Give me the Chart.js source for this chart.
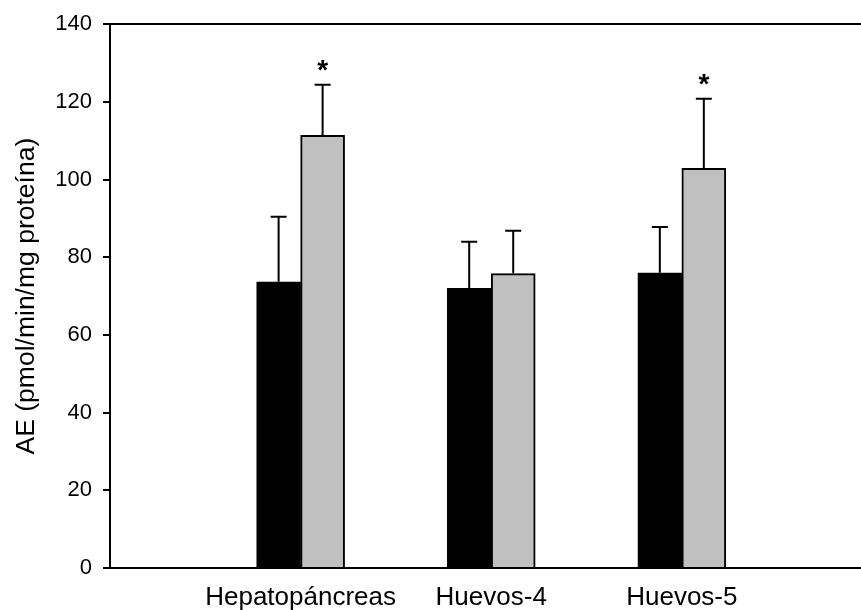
<!DOCTYPE html>
<html>
<head>
<meta charset="utf-8">
<script src="https://cdn.jsdelivr.net/npm/chart.js@4/dist/chart.umd.min.js"></script>
<style>
  body { margin: 0; background: #fff; }
  #wrap { width: 861px; height: 610px; }
</style>
</head>
<body>
<div id="wrap"><canvas id="my-chart" width="861" height="610"></canvas></div>
<script>
// values
const categories = ['Hepatopáncreas', 'Huevos-4', 'Huevos-5'];
const groupPos = [1, 2, 3];
const blackValues = [73.7, 72.0, 76.0];
const blackErrors = [16.7, 12.0, 11.8];
const grayValues = [111.4, 75.8, 102.9];
const grayErrors = [13.0, 11.0, 17.9];
const grayMarks = ['*', '', '*'];
const yTicks = [0, 20, 40, 60, 80, 100, 120, 140];

const font = "'Liberation Sans', Arial, sans-serif";

// upward error bars + significance stars
const errorBars = {
  id: 'errorBars',
  afterDatasetsDraw(chart) {
    const ctx = chart.ctx;
    const yScale = chart.scales.y;
    chart.data.datasets.forEach((ds, i) => {
      const meta = chart.getDatasetMeta(i);
      meta.data.forEach((bar, j) => {
        const top = yScale.getPixelForValue(ds.data[j].y + ds.errors[j]);
        ctx.save();
        ctx.strokeStyle = '#000';
        ctx.lineWidth = 2;
        ctx.beginPath();
        ctx.moveTo(bar.x, bar.y);
        ctx.lineTo(bar.x, top);
        ctx.moveTo(bar.x - 8, top);
        ctx.lineTo(bar.x + 8, top);
        ctx.stroke();
        if (ds.marks && ds.marks[j]) {
          ctx.fillStyle = '#000';
          ctx.font = 'bold 28px ' + font;
          ctx.textAlign = 'center';
          ctx.textBaseline = 'alphabetic';
          ctx.fillText(ds.marks[j], bar.x, top - 5.5);
        }
        ctx.restore();
      });
    });
  }
};

const ctx = document.getElementById('my-chart').getContext('2d');
const chart = new Chart(ctx, {
  type: 'bar',
  data: {
    datasets: [
      {
        label: 'control',
        data: groupPos.map((x, i) => ({ x: x, y: blackValues[i] })),
        errors: blackErrors,
        backgroundColor: '#000000',
        borderColor: '#000000',
        borderWidth: 2,
        barThickness: 44
      },
      {
        label: 'tratado',
        data: groupPos.map((x, i) => ({ x: x, y: grayValues[i] })),
        errors: grayErrors,
        marks: grayMarks,
        backgroundColor: '#c0c0c0',
        borderColor: '#000000',
        borderWidth: 2,
        barThickness: 44
      }
    ]
  },
  options: {
    responsive: false,
    animation: false,
    layout: { padding: { top: 21, right: 0, left: 0, bottom: 0 } },
    plugins: { legend: { display: false }, tooltip: { enabled: false } },
    scales: {
      x: {
        type: 'linear',
        offset: false,
        min: 0,
        max: 3.94,
        afterBuildTicks: axis => { axis.ticks = groupPos.map(v => ({ value: v })); },
        afterFit: axis => { axis.height = 42; },
        grid: { display: false, drawTicks: false, offset: false },
        border: { display: true, color: '#000', width: 2 },
        ticks: {
          callback: (v, i) => categories[i],
          color: '#000',
          padding: 14,
          maxRotation: 0,
          autoSkip: false,
          font: { family: font, size: 26 }
        }
      },
      y: {
        min: 0,
        max: 140,
        afterBuildTicks: axis => { axis.ticks = yTicks.map(v => ({ value: v })); },
        afterFit: axis => { axis.width = 110; },
        grid: {
          color: c => (c.tick && c.tick.value === 140 ? '#000' : 'rgba(0,0,0,0)'),
          lineWidth: 2,
          tickColor: '#000',
          tickWidth: 2,
          tickLength: 7
        },
        border: { display: true, color: '#000', width: 2 },
        ticks: {
          color: '#000',
          padding: 11,
          font: { family: font, size: 22 }
        },
        title: {
          display: true,
          text: 'AE (pmol/min/mg proteína)',
          color: '#000',
          padding: { top: 11, bottom: 0 },
          font: { family: font, size: 26.5 }
        }
      }
    }
  },
  plugins: [errorBars]
});
</script>
</body>
</html>
